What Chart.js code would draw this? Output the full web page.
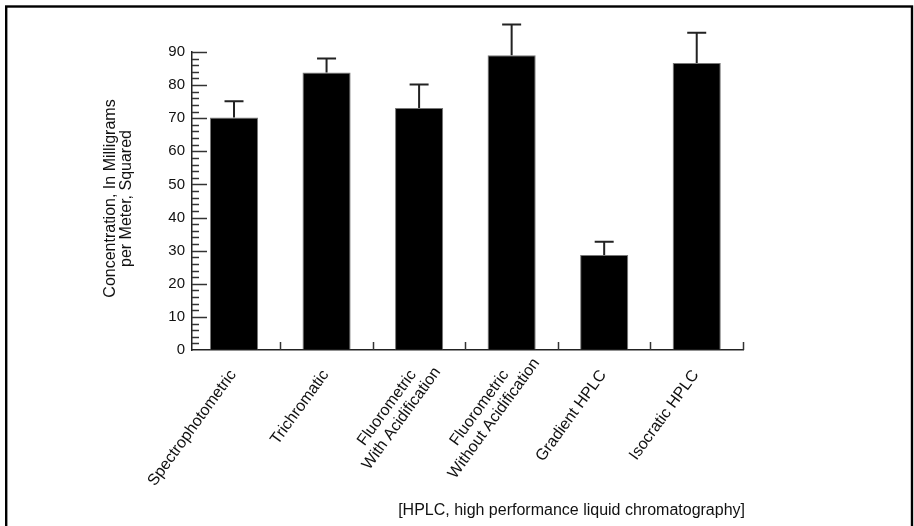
<!DOCTYPE html>
<html>
<head>
<meta charset="utf-8">
<script src="https://cdn.jsdelivr.net/npm/chart.js@4.4.0/dist/chart.umd.min.js"></script>
<style>
  html, body { margin: 0; padding: 0; background: #fff; }
  #wrap { width: 914px; height: 526px; }
</style>
</head>
<body>
<div id="wrap"><canvas id="chart" width="914" height="526"></canvas></div>
<script>
// methods, one entry per bar (multi-line labels as arrays)
const methods = [
  ['Spectrophotometric'],
  ['Trichromatic'],
  ['Fluorometric', 'With Acidification'],
  ['Fluorometric', 'Without Acidification'],
  ['Gradient HPLC'],
  ['Isocratic HPLC']
];
const concentration = [70.2, 83.8, 73.1, 89.0, 28.7, 86.7];
const errorUp = [4.9, 4.2, 7.1, 9.3, 4.0, 9.1];
const yTicks = [0, 10, 20, 30, 40, 50, 60, 70, 80, 90];
const yTitle = ['Concentration, In Milligrams', 'per Meter, Squared'];
const footnote = '[HPLC, high performance liquid chromatography]';

const FONT = '"Liberation Sans", Arial, sans-serif';
const INK = '#111';

const extras = {
  id: 'extras',
  beforeDraw(chart) {
    const ctx = chart.ctx;
    ctx.save();
    ctx.fillStyle = '#fff';
    ctx.fillRect(0, 0, chart.width, chart.height);
    ctx.strokeStyle = '#000';
    ctx.lineWidth = 2.4;
    ctx.strokeRect(6.2, 6.5, 905.8, 560);
    ctx.restore();
  },
  afterDatasetsDraw(chart) {
    const { ctx, scales: { x, y } } = chart;
    ctx.save();
    ctx.strokeStyle = '#222';
    ctx.lineWidth = 2;
    concentration.forEach((v, i) => {
      const px = x.getPixelForValue(i);
      const base = y.getPixelForValue(v);
      const top = y.getPixelForValue(v + errorUp[i]);
      ctx.beginPath();
      ctx.moveTo(px, base);
      ctx.lineTo(px, top);
      ctx.moveTo(px - 9.5, top);
      ctx.lineTo(px + 9.5, top);
      ctx.stroke();
    });
    ctx.restore();
  },
  afterDraw(chart) {
    const { ctx, chartArea, scales: { x, y } } = chart;
    ctx.save();

    // inward tick marks on the y axis: minor every 2, major every 10
    ctx.strokeStyle = '#333';
    ctx.lineWidth = 1.5;
    for (let v = 2; v <= 90; v += 2) {
      const py = Math.round(y.getPixelForValue(v)) + 0.5;
      const len = v % 10 === 0 ? 15 : 7;
      ctx.beginPath();
      ctx.moveTo(chartArea.left, py);
      ctx.lineTo(chartArea.left + len, py);
      ctx.stroke();
    }
    // category separators on the x axis
    x.ticks.forEach(t => {
      const px = Math.round(x.getPixelForValue(t.value)) + 0.5;
      ctx.beginPath();
      ctx.moveTo(px, chartArea.bottom);
      ctx.lineTo(px, chartArea.bottom - 8);
      ctx.stroke();
    });

    // rotated category labels, lines centred on the first line
    ctx.fillStyle = INK;
    ctx.font = '16px ' + FONT;
    ctx.textAlign = 'center';
    ctx.textBaseline = 'middle';
    methods.forEach((lines, i) => {
      const px = x.getPixelForValue(i) + (lines.length > 1 ? -6 : -1);
      const w0 = ctx.measureText(lines[0]).width;
      ctx.save();
      ctx.translate(px, chartArea.bottom + 22);
      ctx.rotate(-54 * Math.PI / 180);
      lines.forEach((t, j) => ctx.fillText(t, -w0 / 2, j * 18));
      ctx.restore();
    });

    // y axis title
    ctx.font = '16px ' + FONT;
    ctx.textBaseline = 'alphabetic';
    ctx.save();
    ctx.translate(0, 198.5);
    ctx.rotate(-Math.PI / 2);
    ctx.fillText(yTitle[0], 0, 114.5);
    ctx.fillText(yTitle[1], 0, 131);
    ctx.restore();

    // footnote
    ctx.textAlign = 'right';
    ctx.fillText(footnote, chartArea.right + 2, 515);
    ctx.restore();
  }
};

new Chart(document.getElementById('chart').getContext('2d'), {
  type: 'bar',
  data: {
    datasets: [{
      data: concentration.map((v, i) => ({ x: i, y: v })),
      backgroundColor: '#000',
      borderColor: '#777',
      borderWidth: 1,
      barPercentage: 0.52,
      categoryPercentage: 1
    }]
  },
  options: {
    responsive: false,
    devicePixelRatio: 1,
    animation: false,
    layout: { padding: { left: 152, right: 171, top: 52, bottom: 176 } },
    plugins: { legend: { display: false }, tooltip: { enabled: false } },
    scales: {
      x: {
        type: 'linear',
        offset: false,
        min: -0.454,
        max: 5.5,
        // category boundaries half way between the bars
        afterBuildTicks: s => { s.ticks = methods.map((m, i) => ({ value: i + 0.5 })); },
        ticks: { display: false },
        grid: { offset: false, drawOnChartArea: false, drawTicks: false },
        border: { color: '#222', width: 1.5 }
      },
      y: {
        min: 0,
        max: 90,
        afterBuildTicks: s => { s.ticks = yTicks.map(v => ({ value: v })); },
        afterFit: s => { s.width = 40; },
        ticks: { color: INK, padding: 7, font: { size: 15, family: FONT } },
        grid: { drawOnChartArea: false, drawTicks: false },
        border: { color: '#222', width: 1.5 }
      }
    }
  },
  plugins: [extras]
});
</script>
</body>
</html>
